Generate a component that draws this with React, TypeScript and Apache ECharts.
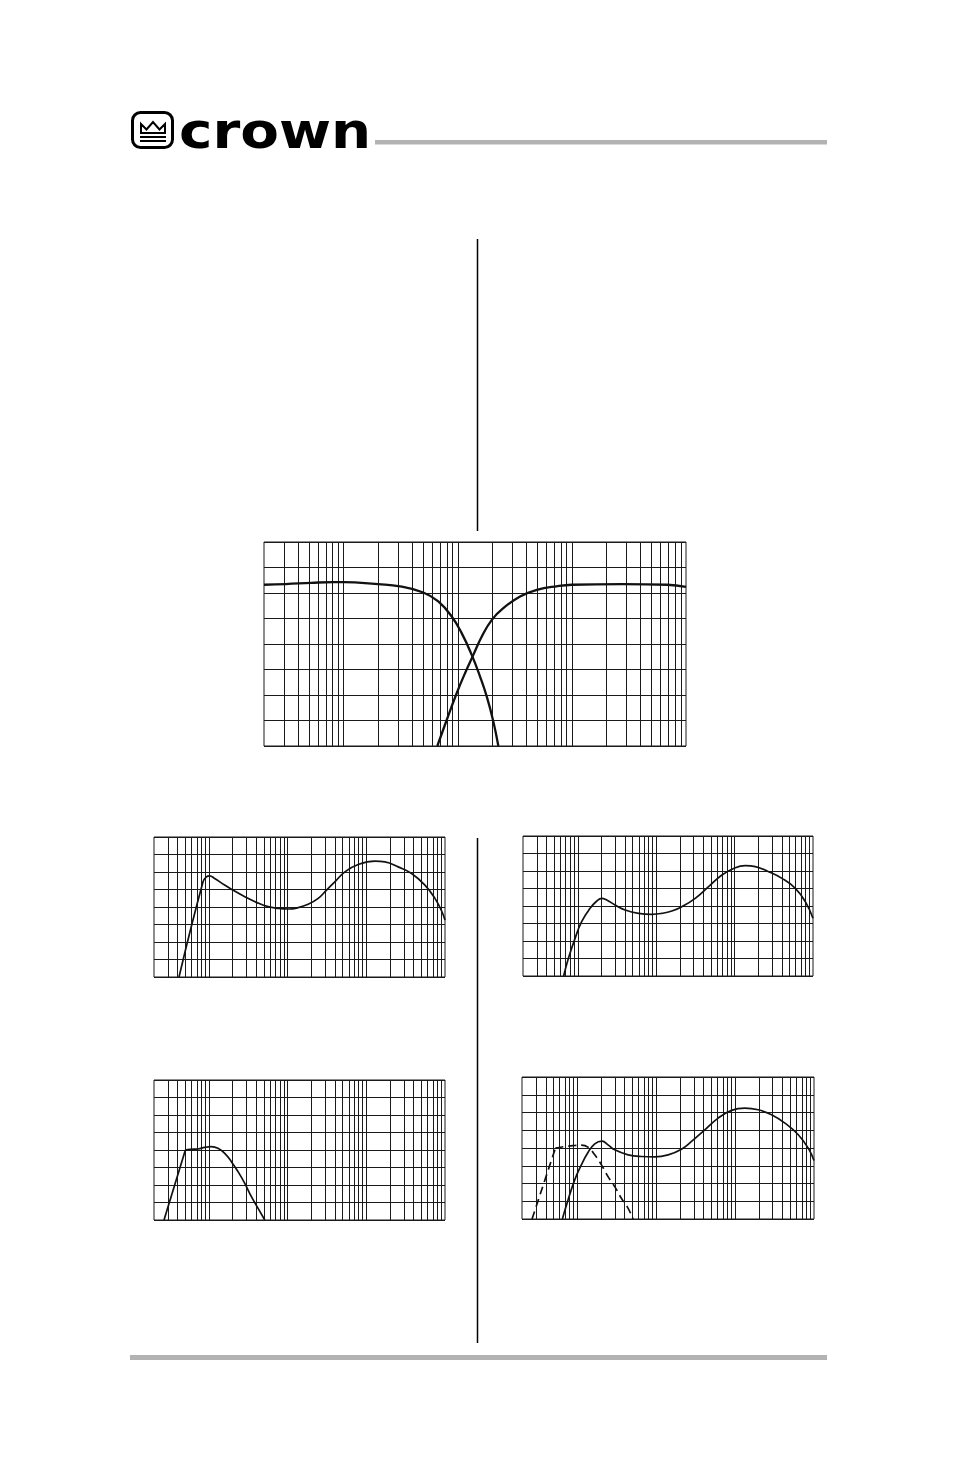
import React, { useEffect, useRef } from "react";
import * as echarts from "echarts";

// ---------- axis ranges ----------
const FREQ_MIN = 20;
const FREQ_MAX = 100000;
const DB_MIN = -30;
const DB_MAX = 10;
const DB_STEP = 5;

// ---------- main crossover chart ----------
const mainLowFreq = [20, 31, 52, 81, 100, 125, 200, 311, 498, 674, 884, 1081, 1324, 1566, 1794, 2050, 2266];
const mainLowDb = [1.62, 1.75, 2.0, 2.14, 2.14, 2.07, 1.75, 1.28, 0.1, -1.66, -4.61, -7.87, -12.13, -16.39, -20.32, -25.23, -30];
const mainHighFreq = [661, 799, 977, 1156, 1368, 1622, 1986, 2508, 3513, 4929, 7500, 10000, 27480, 68700, 100000];
const mainHighDb = [-30, -24.9, -19.65, -15.72, -12.13, -8.54, -5.26, -2.96, -0.68, 0.63, 1.35, 1.62, 1.75, 1.62, 1.22];

// ---------- small chart A (top left) ----------
const aFreq = [41.6, 84, 92.6, 102, 118, 158, 202, 285, 401, 564, 756, 1014, 1360, 1821, 2443, 3119, 3981, 5336, 7878, 12850, 17220, 25430, 37590, 55590, 74470, 90570, 100000];
const aDb = [-30, -2.8, -1.37, -1.09, -1.85, -3.74, -5.17, -7.06, -8.67, -9.91, -10.38, -10.57, -10.19, -9.24, -7.54, -5.17, -2.8, 0.05, 2.13, 3.08, 2.89, 1.47, -0.43, -3.74, -7.54, -11.14, -13.7];

// ---------- small chart B (top right) ----------
const bFreq = [66, 75.9, 92.3, 112, 143.5, 174.6, 202, 234, 299, 402, 595, 880, 1181, 1584, 2125, 3147, 4656, 6890, 10200, 13680, 18370, 27180, 40200, 59540, 79800, 100000];
const bDb = [-30, -24.95, -19.24, -14.48, -10.67, -8.57, -7.81, -8.29, -9.71, -11.14, -12.1, -12.38, -12.1, -11.43, -10.19, -7.81, -4.48, -1.14, 0.95, 1.52, 1.24, -0.19, -2.1, -4.95, -8.76, -13.5];

// ---------- small chart C (bottom left) ----------
const cRiseFreq = [26.8, 50.1];
const cRiseDb = [-30, -10.0];
const cRollFreq = [50.1, 56.9, 72.6, 88.3, 107, 130, 158.5, 192.6, 234, 285, 346, 421, 512];
const cRollDb = [-10.0, -9.81, -9.71, -9.24, -9.05, -9.52, -10.95, -13.33, -16.19, -19.52, -23.33, -26.67, -30];

// ---------- small chart D (bottom right) ----------
const dSolidFreq = [64.9, 76.6, 93.1, 113, 137, 167, 207, 246, 299, 442, 652, 962, 1419, 2094, 2806, 4140, 6110, 9020, 13310, 19640, 28980, 42850, 63240, 84530, 100000];
const dSolidDb = [-30, -24.64, -18.99, -14.75, -11.27, -8.82, -8.07, -9.11, -10.52, -11.93, -12.4, -12.49, -11.93, -10.33, -8.16, -4.87, -1.58, 0.59, 1.25, 0.78, -0.64, -2.99, -6.28, -10.05, -13.53];
const dDashRiseFreq = [26.8, 53];
const dDashRiseDb = [-30, -10.05];
const dDashRollFreq = [53, 69.5, 93.1, 113, 137, 167, 203, 246, 299, 363, 442, 511];
const dDashRollDb = [-10.05, -9.58, -9.29, -9.2, -9.76, -11.93, -14.75, -18.05, -20.87, -24.16, -26.99, -30];

const zip = (xs: number[], ys: number[]) => xs.map((x, i) => [x, ys[i]]);

// log-paper vertical lines: 2..9 x each decade
const gridFreqs: number[] = [];
for (let d = 10; d < FREQ_MAX; d *= 10) {
  for (let k = 1; k <= 9; k++) {
    const f = k * d;
    if (f > FREQ_MIN && f < FREQ_MAX) gridFreqs.push(f);
  }
}

const INK = "#1a1a1a";

const gridBoxes = [
  { left: 264, top: 542, width: 422, height: 204 },
  { left: 154, top: 837, width: 291, height: 140 },
  { left: 523, top: 836, width: 290, height: 140 },
  { left: 154, top: 1080, width: 291, height: 140 },
  { left: 522, top: 1077, width: 292, height: 142 },
];

function curve(idx: number, data: number[][], opts: any = {}) {
  return {
    type: "line",
    xAxisIndex: idx,
    yAxisIndex: idx,
    data,
    symbol: "none",
    smooth: opts.smooth === undefined ? 0.45 : opts.smooth,
    silent: true,
    lineStyle: {
      color: "#111",
      width: opts.width || 1.7,
      type: opts.dash || "solid",
    },
    z: 5,
  };
}

function gridLineSeries(idx: number) {
  return {
    type: "line",
    xAxisIndex: idx,
    yAxisIndex: idx,
    data: [[FREQ_MIN, DB_MIN]],
    symbol: "none",
    lineStyle: { opacity: 0 },
    silent: true,
    z: 2,
    markLine: {
      silent: true,
      symbol: ["none", "none"],
      label: { show: false },
      emphasis: { disabled: true },
      lineStyle: { color: INK, width: 1, type: "solid" },
      data: gridFreqs.map((f) => ({ xAxis: f })),
    },
  };
}

export default function App() {
  const ref = useRef<HTMLDivElement>(null);

  useEffect(() => {
    if (!ref.current) return;
    const chart = echarts.init(ref.current, undefined, { renderer: "svg" });

    const option: any = {
      animation: false,
      backgroundColor: "#ffffff",
      grid: gridBoxes.map((g) => ({
        ...g,
        show: true,
        borderColor: INK,
        borderWidth: 1,
        backgroundColor: "transparent",
        containLabel: false,
      })),
      xAxis: gridBoxes.map((_, i) => ({
        type: "log",
        logBase: 10,
        gridIndex: i,
        min: FREQ_MIN,
        max: FREQ_MAX,
        axisLine: { show: false },
        axisTick: { show: false },
        axisLabel: { show: false },
        splitLine: { show: false },
      })),
      yAxis: gridBoxes.map((_, i) => ({
        type: "value",
        gridIndex: i,
        min: DB_MIN,
        max: DB_MAX,
        interval: DB_STEP,
        axisLine: { show: false },
        axisTick: { show: false },
        axisLabel: { show: false },
        splitLine: { show: true, lineStyle: { color: INK, width: 1 } },
      })),
      series: [
        ...gridBoxes.map((_, i) => gridLineSeries(i)),
        curve(0, zip(mainLowFreq, mainLowDb), { width: 2.3 }),
        curve(0, zip(mainHighFreq, mainHighDb), { width: 2.3 }),
        curve(1, zip(aFreq, aDb)),
        curve(2, zip(bFreq, bDb)),
        curve(3, zip(cRiseFreq, cRiseDb), { smooth: false }),
        curve(3, zip(cRollFreq, cRollDb)),
        curve(4, zip(dSolidFreq, dSolidDb)),
        curve(4, zip(dDashRiseFreq, dDashRiseDb), { smooth: false, dash: [8, 5] }),
        curve(4, zip(dDashRollFreq, dDashRollDb), { dash: [8, 5] }),
      ],
      graphic: [
        // logo icon
        {
          type: "rect",
          shape: { x: 132.5, y: 112.5, width: 40, height: 35, r: 8 },
          style: { fill: "none", stroke: "#000", lineWidth: 3 },
        },
        {
          type: "polygon",
          shape: {
            points: [
              [141, 124],
              [146.5, 129.5],
              [153, 122],
              [159.5, 129.5],
              [165, 124],
              [165, 133],
              [141, 133],
            ],
          },
          style: { fill: "none", stroke: "#000", lineWidth: 2 },
        },
        { type: "line", shape: { x1: 140, y1: 137, x2: 166, y2: 137 }, style: { stroke: "#000", lineWidth: 2 } },
        { type: "line", shape: { x1: 140, y1: 141, x2: 166, y2: 141 }, style: { stroke: "#000", lineWidth: 2 } },
        {
          type: "text",
          x: 179,
          y: 131,
          scaleX: 1.15,
          style: {
            text: "crown",
            font: 'bold 49px "DejaVu Sans"',
            fill: "#000",
            textAlign: "left",
            textVerticalAlign: "middle",
          },
        },
        // header rule
        { type: "rect", shape: { x: 375, y: 140, width: 452, height: 4.5 }, style: { fill: "#b3b3b3" } },
        // footer rule
        { type: "rect", shape: { x: 130, y: 1355, width: 697, height: 5 }, style: { fill: "#b3b3b3" } },
        // column divider
        { type: "line", shape: { x1: 477.5, y1: 239, x2: 477.5, y2: 531 }, style: { stroke: "#000", lineWidth: 1.5 } },
        { type: "line", shape: { x1: 477.5, y1: 838, x2: 477.5, y2: 1343 }, style: { stroke: "#000", lineWidth: 1.5 } },
      ],
    };

    chart.setOption(option);
    return () => chart.dispose();
  }, []);

  return (
    <div
      ref={ref}
      style={{ position: "absolute", left: 0, top: 0, width: 954, height: 1475, background: "#fff" }}
    />
  );
}
